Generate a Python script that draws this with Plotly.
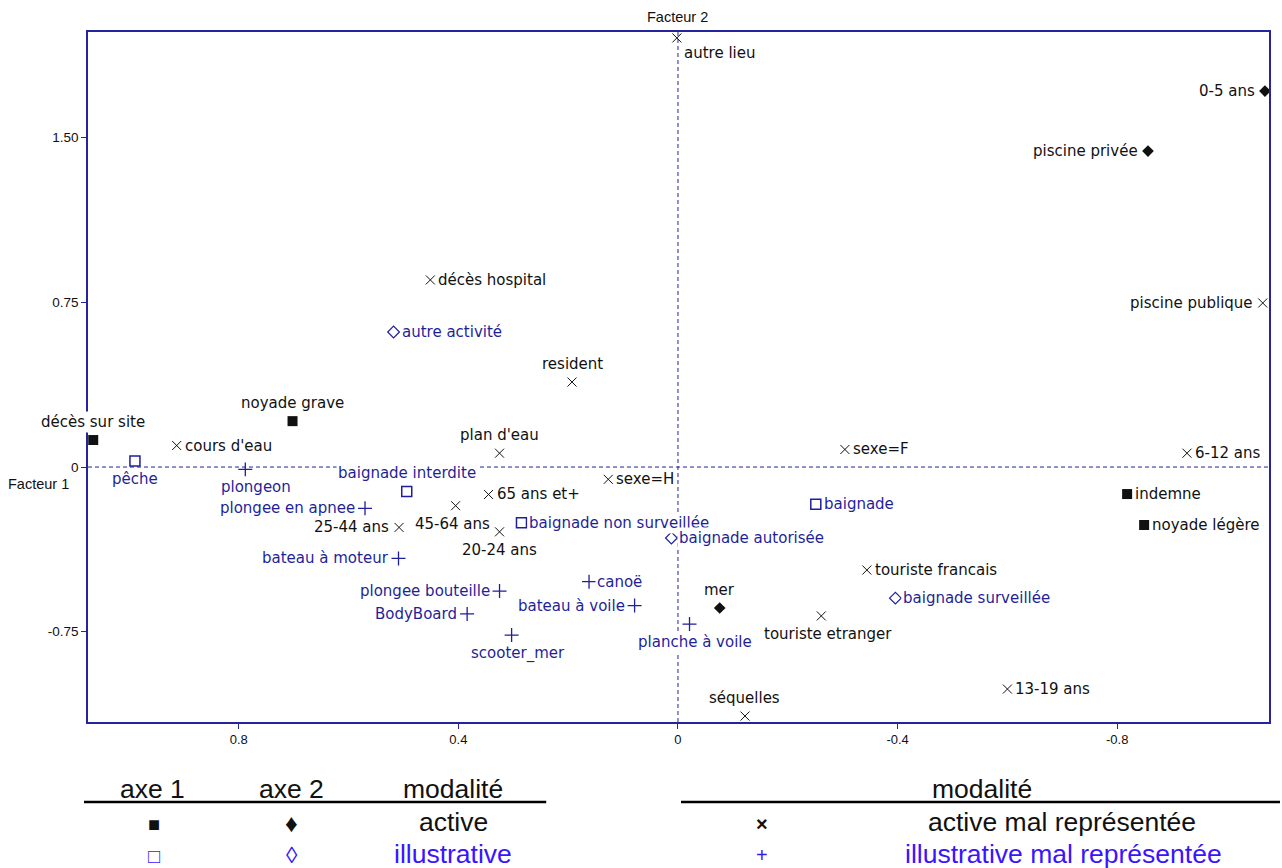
import plotly.graph_objects as go

# ---------------- data ----------------
# active, axe 1 (filled square)
act1_names = ["décès sur site", "noyade grave", "indemne", "noyade légère"]
act1_x = [1.065, 0.702, -0.818, -0.849]
act1_y = [0.123, 0.209, -0.123, -0.264]

# active, axe 2 (filled diamond)
act2_names = ["0-5 ans", "piscine privée", "mer"]
act2_x = [-1.069, -0.856, -0.076]
act2_y = [1.712, 1.439, -0.642]

# illustrative, axe 1 (open square)
ill1_names = ["pêche", "baignade interdite", "baignade", "baignade non surveillée"]
ill1_x = [0.989, 0.494, -0.251, 0.285]
ill1_y = [0.027, -0.111, -0.170, -0.254]

# illustrative, axe 2 (open diamond)
ill2_names = ["autre activité", "baignade autorisée", "baignade surveillée"]
ill2_x = [0.518, 0.012, -0.396]
ill2_y = [0.615, -0.323, -0.597]

# active mal représentée (x)
actm_names = ["autre lieu", "décès hospital", "piscine publique", "resident", "cours d'eau",
              "plan d'eau", "sexe=F", "6-12 ans", "sexe=H", "65 ans et+", "45-64 ans",
              "25-44 ans", "20-24 ans", "touriste francais", "touriste etranger",
              "13-19 ans", "séquelles"]
actm_x = [0.002, 0.451, -1.065, 0.193, 0.913, 0.325, -0.304, -0.927, 0.127, 0.345, 0.405,
          0.508, 0.325, -0.344, -0.261, -0.600, -0.122]
actm_y = [1.954, 0.852, 0.747, 0.387, 0.098, 0.063, 0.080, 0.063, -0.056, -0.125, -0.176,
          -0.275, -0.295, -0.469, -0.678, -1.011, -1.134]

# illustrative mal représentée (+)
illm_names = ["plongeon", "plongee en apnee", "bateau à moteur", "canoë", "plongee bouteille",
              "bateau à voile", "BodyBoard", "planche à voile", "scooter_mer"]
illm_x = [0.788, 0.570, 0.509, 0.162, 0.325, 0.079, 0.384, -0.021, 0.303]
illm_y = [-0.011, -0.188, -0.416, -0.522, -0.565, -0.631, -0.669, -0.715, -0.765]

x_tickvals = [0.8, 0.4, 0, -0.4, -0.8]
x_ticktext = ["0.8", "0.4", "0", "-0.4", "-0.8"]
y_tickvals = [1.5, 0.75, 0, -0.75]
y_ticktext = ["1.50", "0.75", "0", "-0.75"]

# ---------------- styles ----------------
BLACK = "#111111"
NAVY = "#1f1f99"
FRAME = "#24249c"
LEG_BLUE = "#3a14ff"
LBL_FONT = "DejaVu Sans"

label_pos = {
    "décès sur site": "above", "noyade grave": "above", "resident": "above",
    "plan d'eau": "above", "mer": "above", "séquelles": "above",
    "baignade interdite": "above",
    "pêche": "below", "plongeon": "below", "45-64 ans": "below", "20-24 ans": "below",
    "touriste etranger": "below", "planche à voile": "below", "scooter_mer": "below",
    "autre lieu": "belowright",
    "0-5 ans": "left", "piscine privée": "left", "piscine publique": "left",
    "plongee en apnee": "left", "25-44 ans": "left", "bateau à moteur": "left",
    "plongee bouteille": "left", "bateau à voile": "left", "BodyBoard": "left",
}
label_dx = {"plongeon": 11, "scooter_mer": 6, "planche à voile": 5,
            "touriste etranger": 7, "45-64 ans": -3}

fig = go.Figure()

groups = [
    (act1_names, act1_x, act1_y, dict(symbol="square", size=10, color=BLACK), BLACK),
    (act2_names, act2_x, act2_y, dict(symbol="diamond", size=9, color=BLACK), BLACK),
    (ill1_names, ill1_x, ill1_y, dict(symbol="square-open", size=10, color=NAVY,
                                      line=dict(width=1.5, color=NAVY)), NAVY),
    (ill2_names, ill2_x, ill2_y, dict(symbol="diamond-open", size=9, color=NAVY,
                                      line=dict(width=1.2, color=NAVY)), NAVY),
    (actm_names, actm_x, actm_y, dict(symbol="x-thin-open", size=9, color=BLACK,
                                      line=dict(width=1, color="#333333")), BLACK),
    (illm_names, illm_x, illm_y, dict(symbol="cross-thin-open", size=10, color=NAVY,
                                      line=dict(width=1.3, color=NAVY)), NAVY),
]

for names, xs, ys, mk, col in groups:
    fig.add_trace(go.Scatter(x=xs, y=ys, mode="markers", marker=mk, text=names,
                             hoverinfo="text", showlegend=False, cliponaxis=False))
    for n, x, y in zip(names, xs, ys):
        pos = label_pos.get(n, "right")
        dx = label_dx.get(n, 0)
        kw = dict(x=x, y=y, text=n, showarrow=False, bgcolor="white", borderpad=1,
                  font=dict(family=LBL_FONT, size=15, color=col))
        if pos == "right":
            kw.update(xanchor="left", yanchor="middle", xshift=6)
        elif pos == "left":
            kw.update(xanchor="right", yanchor="middle", xshift=-8)
        elif pos == "above":
            kw.update(xanchor="center", yanchor="middle", yshift=18, xshift=dx)
        elif pos == "below":
            kw.update(xanchor="center", yanchor="middle", yshift=-18, xshift=dx)
        elif pos == "belowright":
            kw.update(xanchor="left", yanchor="middle", xshift=5, yshift=-15)
        fig.add_annotation(**kw)

# dashed zero lines
fig.add_shape(type="line", xref="paper", yref="y", x0=0, x1=1, y0=0, y1=0,
              line=dict(color="#22229c", width=1, dash="4px,3px"), layer="below")
fig.add_shape(type="line", xref="x", yref="paper", x0=0, x1=0, y0=0, y1=1,
              line=dict(color="#22229c", width=1, dash="4px,3px"), layer="below")

# axis titles
fig.add_annotation(x=0, xref="x", y=1, yref="paper", yshift=15, text="Facteur 2",
                   showarrow=False, xanchor="center", yanchor="middle",
                   font=dict(family="Liberation Sans", size=14.5, color=BLACK))
fig.add_annotation(x=0, xref="paper", y=0, yref="y", xshift=-17, yshift=-17,
                   text="Facteur 1", showarrow=False, xanchor="right", yanchor="middle",
                   font=dict(family="Liberation Sans", size=14.5, color=BLACK))

# ---------------- legend table below the chart ----------------
L, R, T, B = 88, 1271, 32, 722


def px(X):
    return (X - L) / (R - L)


def py(Y):
    return (B - Y) / (B - T)


LEG_FONT = "Liberation Sans"
LEG_SIZE = 26.5
leg_items = [
    (153, 789, "axe 1", BLACK, LEG_SIZE), (292, 789, "axe 2", BLACK, LEG_SIZE),
    (454, 789, "modalité", BLACK, LEG_SIZE), (984, 789, "modalité", BLACK, LEG_SIZE),
    (154, 824, "■", BLACK, 20), (292, 823, "♦", BLACK, 25), (454, 822, "active", BLACK, LEG_SIZE),
    (154, 856, "□", LEG_BLUE, 20), (292, 855, "◊", LEG_BLUE, 23),
    (454, 854, "illustrative", LEG_BLUE, LEG_SIZE),
    (763, 824, "<b>×</b>", BLACK, 20), (1064, 822, "active mal représentée", BLACK, LEG_SIZE),
    (763, 855, "+", LEG_BLUE, 20), (1065, 854, "illustrative mal représentée", LEG_BLUE, LEG_SIZE),
]
for X, Y, t, c, s in leg_items:
    fig.add_annotation(x=px(X), y=py(Y), xref="paper", yref="paper", text=t,
                       showarrow=False, xanchor="center", yanchor="middle",
                       font=dict(family=LEG_FONT, size=s, color=c))

for x0, x1 in [(84, 547), (682, 1282)]:
    fig.add_shape(type="line", xref="paper", yref="paper", x0=px(x0), x1=px(x1),
                  y0=py(802), y1=py(802), line=dict(color="black", width=2.5))

fig.update_layout(
    width=1282, height=868,
    margin=dict(l=L, r=1282 - R, t=T, b=868 - B),
    paper_bgcolor="white", plot_bgcolor="white",
    showlegend=False,
    xaxis=dict(range=[1.0745, -1.0764], tickvals=x_tickvals, ticktext=x_ticktext,
               showgrid=False, zeroline=False, showline=True, mirror=True,
               linecolor=FRAME, linewidth=1.5, ticks="outside", ticklen=5,
               tickcolor=FRAME, tickfont=dict(family="Liberation Sans", size=13, color=BLACK)),
    yaxis=dict(range=[-1.161, 1.981], tickvals=y_tickvals, ticktext=y_ticktext,
               showgrid=False, zeroline=False, showline=True, mirror=True,
               linecolor=FRAME, linewidth=1.5, ticks="outside", ticklen=5,
               tickcolor=FRAME, tickfont=dict(family="Liberation Sans", size=13.5, color=BLACK)),
)

fig.write_html("out.html", config={"displayModeBar": False},
               post_script="document.body.style.margin='0';"
                           "document.body.style.overflow='hidden';")
